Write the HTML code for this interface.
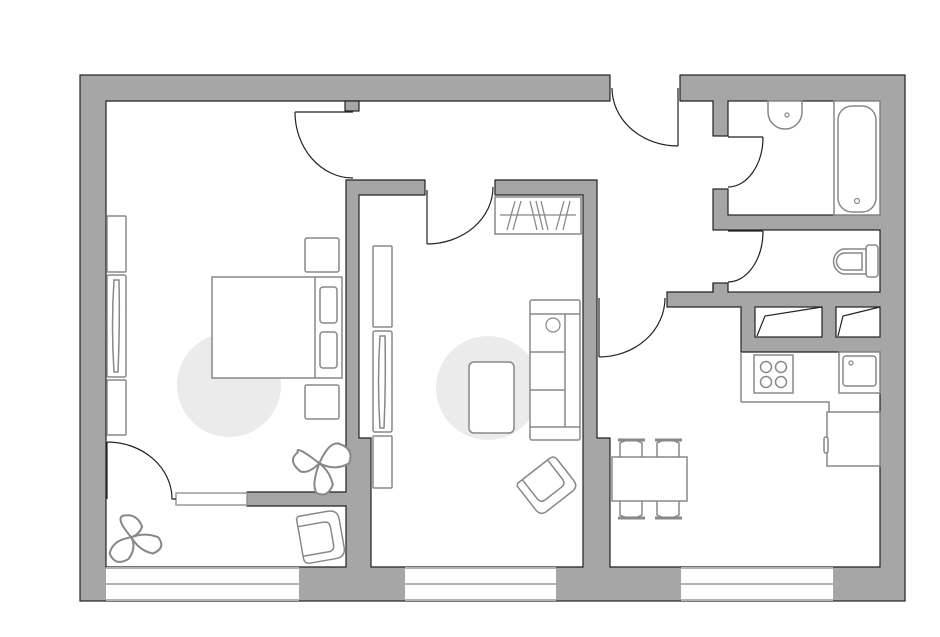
<!DOCTYPE html>
<html><head><meta charset="utf-8"><style>
html,body{margin:0;padding:0;background:#fff;width:940px;height:637px;overflow:hidden}
svg{display:block}
</style></head><body>
<svg width="940" height="637" viewBox="0 0 940 637" xmlns="http://www.w3.org/2000/svg">
<rect x="80" y="75" width="825" height="526" fill="#a6a6a6" stroke="#222" stroke-width="1.2"/>
<path d="M106,101 H713 V292 H667 V307 H741 V352 H880 V567 H610 V438 H597 V180 H346 V492 H247 V506 H346 V567 H106 Z" fill="#fff" stroke="#222" stroke-width="1.2"/>
<path d="M359,195 H583 V567 H371 V438 H359 Z" fill="#fff" stroke="#222" stroke-width="1.2"/>
<rect x="728" y="101" width="152" height="114" fill="#fff" stroke="#222" stroke-width="1.2"/>
<rect x="728" y="230" width="152" height="62" fill="#fff" stroke="#222" stroke-width="1.2"/>
<rect x="755" y="307" width="67" height="30" fill="#fff" stroke="#222" stroke-width="1.2"/>
<rect x="836" y="307" width="44" height="30" fill="#fff" stroke="#222" stroke-width="1.2"/>
<polyline points="757,336 765,316 822,307" fill="none" stroke="#222" stroke-width="1.2"/>
<polyline points="838,336 843,316 880,307" fill="none" stroke="#222" stroke-width="1.2"/>
<rect x="345" y="101" width="14" height="10" fill="#a6a6a6" stroke="#222" stroke-width="1.2"/>
<rect x="610.5" y="74" width="69" height="28" fill="#fff"/>
<line x1="610" y1="75" x2="610" y2="101" stroke="#222" stroke-width="1.2"/>
<line x1="680" y1="75" x2="680" y2="101" stroke="#222" stroke-width="1.2"/>
<rect x="425.5" y="179" width="69" height="17" fill="#fff"/>
<line x1="425" y1="180" x2="425" y2="195" stroke="#222" stroke-width="1.2"/>
<line x1="495" y1="180" x2="495" y2="195" stroke="#222" stroke-width="1.2"/>
<rect x="712" y="136.5" width="17" height="52" fill="#fff"/>
<line x1="713" y1="136" x2="728" y2="136" stroke="#222" stroke-width="1.2"/>
<line x1="713" y1="189" x2="728" y2="189" stroke="#222" stroke-width="1.2"/>
<rect x="712" y="230.5" width="17" height="52" fill="#fff"/>
<line x1="713" y1="230" x2="728" y2="230" stroke="#222" stroke-width="1.2"/>
<line x1="713" y1="283" x2="728" y2="283" stroke="#222" stroke-width="1.2"/>
<line x1="713" y1="283" x2="713" y2="292" stroke="#222" stroke-width="1.2"/>
<rect x="176" y="493" width="71" height="12" fill="#fff" stroke="#999" stroke-width="1.5"/>
<g stroke="#999" stroke-width="1.5">
<rect x="106" y="567" width="193" height="34" fill="#fff" stroke="none"/>
<rect x="405" y="567" width="151" height="34" fill="#fff" stroke="none"/>
<rect x="681" y="567" width="152" height="34" fill="#fff" stroke="none"/>
<line x1="106" y1="568" x2="299" y2="568"/><line x1="106" y1="584" x2="299" y2="584"/><line x1="106" y1="600" x2="299" y2="600"/>
<line x1="405" y1="568" x2="556" y2="568"/><line x1="405" y1="584" x2="556" y2="584"/><line x1="405" y1="600" x2="556" y2="600"/>
<line x1="681" y1="568" x2="833" y2="568"/><line x1="681" y1="584" x2="833" y2="584"/><line x1="681" y1="600" x2="833" y2="600"/>
</g>
<g fill="none" stroke="#222" stroke-width="1.2">
<line x1="678" y1="88" x2="678" y2="146"/><path d="M612,88 A66,58 0 0 0 678,146"/>
<line x1="295" y1="112" x2="353" y2="112"/><path d="M295,112 A58,66 0 0 0 353,178"/>
<line x1="427" y1="190" x2="427" y2="244"/><path d="M427,244 A66,57 0 0 0 493,187"/>
<line x1="728" y1="137" x2="763" y2="137"/><path d="M763,137 A35,50 0 0 1 728,187"/>
<line x1="728" y1="231" x2="763" y2="231"/><path d="M763,231 A35,51 0 0 1 728,282"/>
<line x1="599" y1="298" x2="599" y2="357"/><path d="M599,357 A66,59 0 0 0 665,298"/>
<line x1="107" y1="442" x2="107" y2="499"/><path d="M107,442 A65,57 0 0 1 172,499 H176"/>
</g>
<circle cx="229" cy="385" r="52" fill="#ebebeb"/>
<circle cx="488" cy="388" r="52" fill="#ebebeb"/>
<g fill="#fff" stroke="#888" stroke-width="1.5">
<rect x="107" y="216" width="19" height="56" rx="1"/>
<rect x="107" y="275" width="19" height="102" rx="2"/>
<path d="M114,280 Q111,326 114,372 H118 Q120,326 119,280 Z"/>
<rect x="107" y="380" width="19" height="55" rx="1"/>
<rect x="212" y="277" width="130" height="101"/>
<line x1="315" y1="277" x2="315" y2="378"/>
<rect x="320" y="287" width="17" height="36" rx="3"/>
<rect x="320" y="332" width="17" height="36" rx="3"/>
<rect x="305" y="238" width="34" height="34" rx="2"/>
<rect x="305" y="385" width="34" height="34" rx="2"/>
<rect x="373" y="246" width="19" height="81" rx="1"/>
<rect x="373" y="331" width="19" height="101" rx="2"/>
<path d="M380,336 Q377,382 380,428 H384 Q386,382 385,336 Z"/>
<rect x="373" y="436" width="19" height="52" rx="1"/>
<rect x="495" y="197" width="86" height="37"/>
<rect x="530" y="300" width="50" height="140" rx="2"/>
<line x1="530" y1="314" x2="580" y2="314"/><line x1="530" y1="427" x2="580" y2="427"/>
<line x1="565" y1="314" x2="565" y2="427"/>
<line x1="530" y1="352" x2="565" y2="352"/><line x1="530" y1="390" x2="565" y2="390"/>
<circle cx="553" cy="325" r="7" stroke-width="1.2"/>
<rect x="469" y="362" width="45" height="71" rx="5"/>
<rect x="754" y="355" width="39" height="38"/>
<circle cx="766" cy="367" r="5.5"/><circle cx="781" cy="367" r="5.5"/>
<circle cx="766" cy="382" r="5.5"/><circle cx="781" cy="382" r="5.5"/>
<rect x="839" y="352" width="41" height="41"/>
<rect x="843" y="356" width="33" height="30" rx="3"/>
<circle cx="851" cy="363" r="2" stroke-width="1.2"/>
<rect x="827" y="412" width="53" height="54"/>
<rect x="824" y="437" width="4" height="16" rx="2"/>
<path d="M620,457 V443 Q631,437 642,443 V457 M657,457 V443 Q668,437 679,443 V457"/>
<path d="M618,440 H645 M655,440 H682" stroke-width="3"/>
<path d="M620,501 V515 Q631,521 642,515 V501 M657,501 V515 Q668,521 679,515 V501"/>
<path d="M618,518 H645 M655,518 H682" stroke-width="3"/>
<rect x="612" y="457" width="75" height="44"/>
<path d="M768,101 H802 V112 A17,17 0 0 1 768,112 Z"/>
<circle cx="787" cy="115" r="2" stroke-width="1.2"/>
<rect x="834" y="101" width="46" height="114" fill="#fff"/>
<rect x="838" y="106" width="38" height="106" rx="14"/>
<circle cx="857" cy="201" r="2.5" stroke-width="1.2"/>
<rect x="866" y="245" width="12" height="32" rx="3"/>
<path d="M866,249 H843 A13,13 0 0 0 843,274 H866 Z"/>
<path d="M862,253 H845 A8,8 0 0 0 845,270 H862 Z"/>
<line x1="741" y1="352" x2="741" y2="402" />
<polyline points="741,402 829,402 829,412" fill="none"/>
</g>
<g stroke="#888" stroke-width="1.3" fill="none">
<line x1="500" y1="215" x2="576" y2="215"/>
<line x1="507" y1="230" x2="515" y2="201"/><line x1="513" y1="230" x2="521" y2="201"/>
<line x1="530" y1="201" x2="537" y2="230"/><line x1="536" y1="201" x2="543" y2="230"/><line x1="541" y1="201" x2="548" y2="230"/>
<line x1="556" y1="230" x2="564" y2="201"/><line x1="563" y1="230" x2="570" y2="201"/>
</g>
<g fill="none" stroke="#888" stroke-width="1.5">
<g transform="translate(546,484) rotate(-38)">
<path d="M-22,-18 H18 Q24,-18 24,-12 V14 Q24,22 16,22 H-16 Q-24,22 -24,14 V-16 Z" fill="#fff"/>
<path d="M-16,-18 V6 Q-16,12 -10,12 H10 Q16,12 16,6 V-18"/>
</g>
<g transform="translate(320,537) rotate(-10)">
<path d="M-20,-22 V18 Q-20,24 -14,24 H12 Q22,24 22,14 V-14 Q22,-24 12,-24 H-18 Z" fill="#fff"/>
<path d="M-20,-14 H6 Q12,-14 12,-8 V10 Q12,16 6,16 H-20"/>
</g>
</g>
<g fill="#fff" stroke="#888" stroke-width="1.5">
<g transform="translate(322,466) scale(1.35)">
<path d="M-2,-2 Q-20,-16 -18,-10 Q-26,-4 -16,4 Q-10,6 -2,-2 Z"/>
<path d="M-2,-2 Q6,-20 14,-16 Q24,-12 20,-2 Q10,4 -2,-2 Z"/>
<path d="M-2,-2 Q-8,14 -4,20 Q4,24 8,14 Q6,4 -2,-2 Z"/>
</g>
<g transform="translate(134,540) scale(1.35)">
<path d="M-2,-2 Q-14,-16 -8,-18 Q2,-20 6,-10 Q4,-4 -2,-2 Z"/>
<path d="M-2,-2 Q8,-6 18,-2 Q24,6 14,10 Q4,8 -2,-2 Z"/>
<path d="M-2,-2 Q-16,0 -18,10 Q-14,20 -4,14 Q2,6 -2,-2 Z"/>
</g>
</g>
</svg>
</body></html>
